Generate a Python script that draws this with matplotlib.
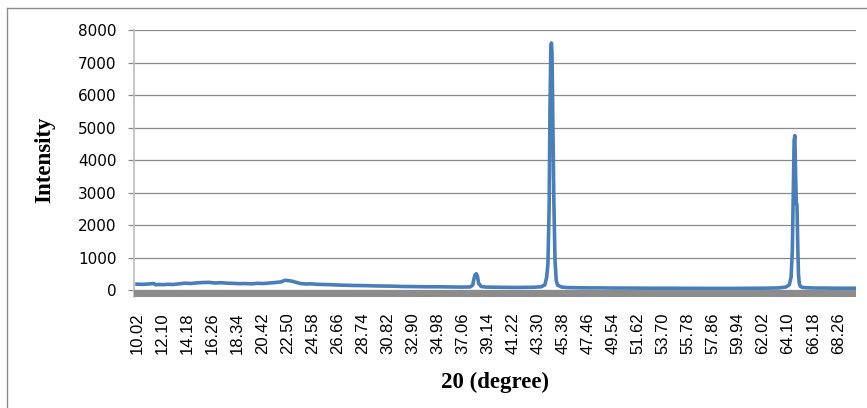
import matplotlib
matplotlib.use("Agg")
import matplotlib.pyplot as plt
from matplotlib.lines import Line2D

# 2-theta (degree) and intensity
two_theta = [10.02, 10.5, 11.0, 11.4, 11.6, 11.8, 12.2, 12.6, 13.0, 13.5, 14.0, 14.5,
             15.0, 15.5, 16.0, 16.5, 17.0, 17.5, 18.0, 18.5, 19.0, 19.5, 20.0, 20.5,
             21.0, 21.5, 22.0, 22.3, 22.6, 22.9, 23.2, 23.6, 24.0, 24.5, 25.0, 25.5,
             26.0, 27.0, 28.0, 29.0, 30.0, 31.0, 32.0, 33.0, 34.0, 35.0, 36.0, 37.0,
             37.7, 37.9, 38.0, 38.1, 38.2, 38.3, 38.4, 38.6, 39.0, 40.0, 41.0, 42.0,
             43.0, 43.6, 43.9, 44.05, 44.15, 44.25, 44.32, 44.39, 44.44, 44.49, 44.56,
             44.64, 44.74, 44.84, 44.95, 45.3, 45.8, 46.5, 47.5, 48.5, 49.5, 50.5, 51.5,
             52.5, 53.5, 54.5, 55.5, 56.5, 57.5, 58.5, 59.5, 60.5, 61.5, 62.5, 63.3,
             63.9, 64.2, 64.35, 64.45, 64.53, 64.6, 64.66, 64.72, 64.78, 64.84, 64.9,
             64.96, 65.03, 65.12, 65.3, 65.6, 66.0, 66.5, 67.0, 67.5, 68.0, 68.5,
             69.0, 69.7]
intensity = [180, 175, 185, 200, 160, 170, 165, 175, 170, 190, 210, 200,
             220, 230, 235, 215, 225, 210, 205, 195, 200, 190, 205, 200,
             215, 230, 250, 300, 290, 270, 240, 200, 185, 190, 175, 170,
             165, 150, 140, 135, 125, 120, 110, 105, 100, 100, 95, 90,
             95, 150, 330, 470, 500, 420, 200, 110, 90, 85, 80, 80,
             85, 100, 160, 400, 800, 2500, 5500, 7400, 7600, 7300, 5200,
             2800, 900, 300, 150, 90, 75, 70, 65, 65, 60, 60, 58,
             55, 55, 55, 52, 52, 50, 50, 50, 52, 55, 58, 65,
             90, 160, 400, 1200, 3000, 4600, 4750, 3600, 2700, 2600, 1400,
             500, 200, 110, 80, 70, 65, 60, 60, 58, 55, 55,
             55, 55]

tick_start = 10.02
tick_step = 2.08
tick_count = 29
yticks = [0, 1000, 2000, 3000, 4000, 5000, 6000, 7000, 8000]

W, H = 867, 408
fig = plt.figure(figsize=(W / 100, H / 100), dpi=100)
ax = fig.add_axes([134 / W, (H - 297) / H, 722 / W, 267 / H])

ax.plot(two_theta, intensity, color="#4A7EBB", linewidth=2.6, solid_joinstyle="round")

ax.set_xlim(9.77, 69.74)
ax.set_ylim(-215, 8000)

# grey floor band below zero, as in the Excel chart
ax.axhspan(-215, 0, color="#8C8C8C", zorder=3, linewidth=0)

for y in yticks:
    ax.axhline(y, color="#8A8A8A", linewidth=0.9, zorder=0)

xt = [round(tick_start + i * tick_step, 2) for i in range(tick_count)]
ax.set_xticks(xt)
ax.set_xticklabels([f"{v:.2f}" for v in xt], rotation=90,
                   family="Liberation Sans", fontsize=12)
ax.tick_params(axis="x", length=0, pad=11)

ax.set_yticks(yticks)
ax.set_yticklabels([str(v) for v in yticks], family="DejaVu Sans", fontsize=11)
ax.tick_params(axis="y", length=4.5, width=0.9, color="#8A8A8A", pad=8)

for s in ["top", "right", "bottom"]:
    ax.spines[s].set_visible(False)
ax.spines["left"].set_color("#BDBDBD")
ax.spines["left"].set_linewidth(1.2)

ax.set_ylabel("Intensity", family="Liberation Serif", fontweight="bold", fontsize=16.5)
ax.yaxis.set_label_coords(-0.109, 0.513)
ax.set_xlabel("20 (degree)", family="Liberation Serif", fontweight="bold", fontsize=16.5)
ax.xaxis.set_label_coords(0.5, -0.28)

# outer chart frame (only top and left edges are inside the picture)
bx, by = 7 / W, 1 - 8 / H
fig.add_artist(Line2D([bx, bx], [0, by], color="#8C8C8C", linewidth=1.0))
fig.add_artist(Line2D([bx, 1], [by, by], color="#8C8C8C", linewidth=1.0))

fig.savefig("out.png", dpi=100)
